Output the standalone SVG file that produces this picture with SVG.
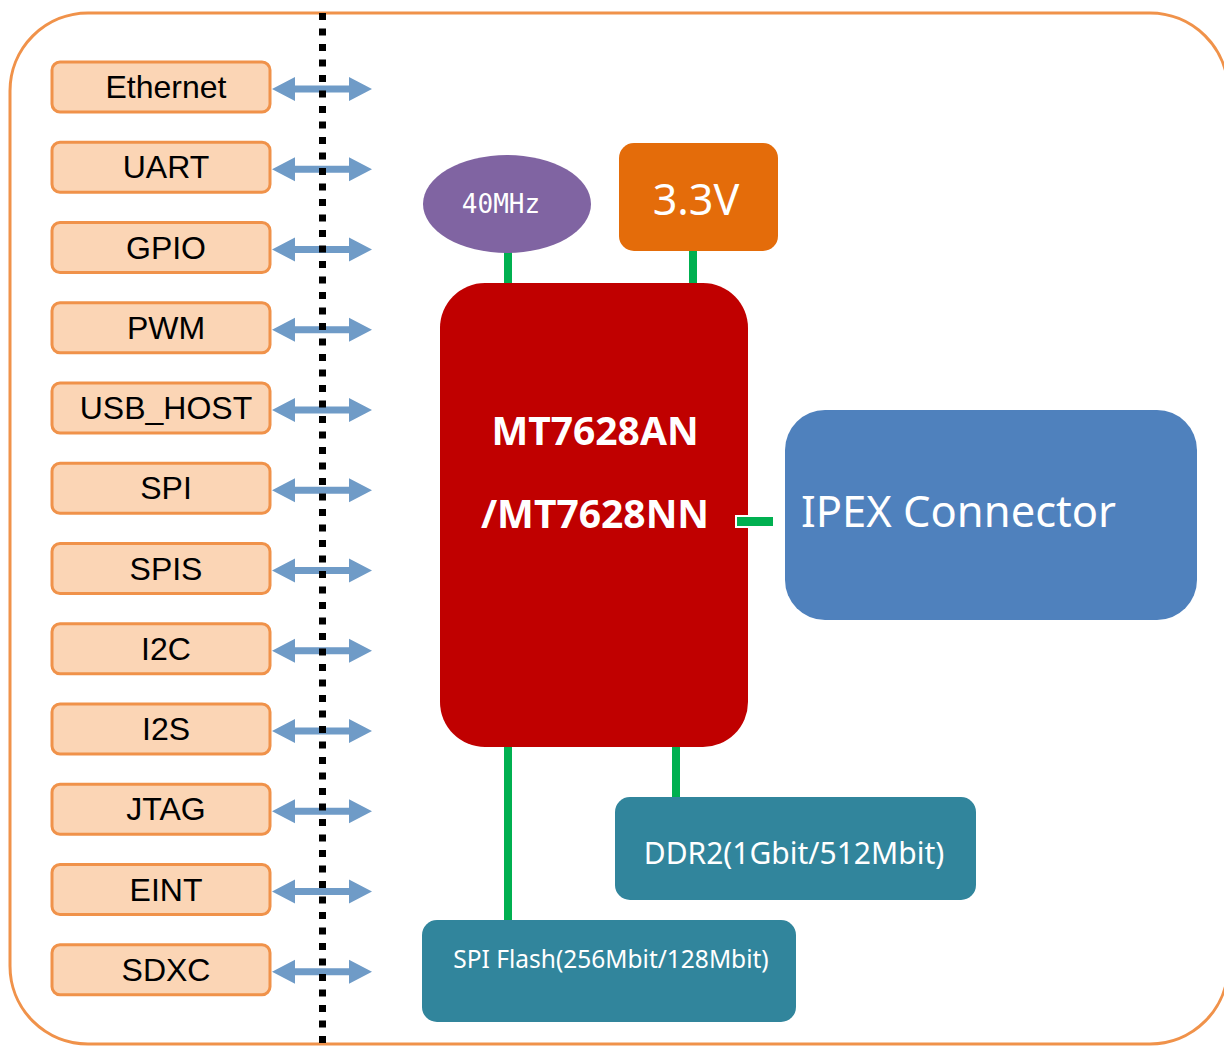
<svg xmlns="http://www.w3.org/2000/svg" width="1224" height="1046" viewBox="0 0 1224 1046">
<style>
.lbox{fill:#FBD5B5;stroke:#F0924A;stroke-width:3}
.ltxt{font-family:"Liberation Sans",Arial,sans-serif;font-size:32px;fill:#000;text-anchor:middle}
.wtxt{font-family:"Noto Sans","Open Sans",sans-serif;fill:#fff}
.grn{stroke:#00B050;stroke-width:8;fill:none}
.arr{fill:#6F9BC7}
.teal{fill:#31859C}
</style>
<defs>
<path id="arr" d="M272,0 L295,-12 L295,-3.5 L349,-3.5 L349,-12 L372,0 L349,12 L349,3.5 L295,3.5 L295,12 Z"/>
</defs>
<rect x="10" y="13" width="1218" height="1031" rx="78" ry="78" fill="#fff" stroke="#F0924A" stroke-width="3"/>

<g id="interfaces">
<g id="n-ethernet"><rect class="lbox" x="52" y="62" width="218" height="50" rx="8"/><text class="ltxt" x="166" y="98">Ethernet</text></g>
<g id="n-uart"><rect class="lbox" x="52" y="142.25" width="218" height="50" rx="8"/><text class="ltxt" x="166" y="178.25">UART</text></g>
<g id="n-gpio"><rect class="lbox" x="52" y="222.5" width="218" height="50" rx="8"/><text class="ltxt" x="166" y="258.5">GPIO</text></g>
<g id="n-pwm"><rect class="lbox" x="52" y="302.75" width="218" height="50" rx="8"/><text class="ltxt" x="166" y="338.75">PWM</text></g>
<g id="n-usbhost"><rect class="lbox" x="52" y="383" width="218" height="50" rx="8"/><text class="ltxt" x="166" y="419">USB_HOST</text></g>
<g id="n-spi"><rect class="lbox" x="52" y="463.25" width="218" height="50" rx="8"/><text class="ltxt" x="166" y="499.25">SPI</text></g>
<g id="n-spis"><rect class="lbox" x="52" y="543.5" width="218" height="50" rx="8"/><text class="ltxt" x="166" y="579.5">SPIS</text></g>
<g id="n-i2c"><rect class="lbox" x="52" y="623.75" width="218" height="50" rx="8"/><text class="ltxt" x="166" y="659.75">I2C</text></g>
<g id="n-i2s"><rect class="lbox" x="52" y="704" width="218" height="50" rx="8"/><text class="ltxt" x="166" y="740">I2S</text></g>
<g id="n-jtag"><rect class="lbox" x="52" y="784.25" width="218" height="50" rx="8"/><text class="ltxt" x="166" y="820.25">JTAG</text></g>
<g id="n-eint"><rect class="lbox" x="52" y="864.5" width="218" height="50" rx="8"/><text class="ltxt" x="166" y="900.5">EINT</text></g>
<g id="n-sdxc"><rect class="lbox" x="52" y="944.75" width="218" height="50" rx="8"/><text class="ltxt" x="166" y="980.75">SDXC</text></g>
</g>

<g id="connectors">
<g class="arr">
<use href="#arr" y="89"/>
<use href="#arr" y="169.25"/>
<use href="#arr" y="249.5"/>
<use href="#arr" y="329.75"/>
<use href="#arr" y="410"/>
<use href="#arr" y="490.25"/>
<use href="#arr" y="570.5"/>
<use href="#arr" y="650.75"/>
<use href="#arr" y="731"/>
<use href="#arr" y="811.25"/>
<use href="#arr" y="891.5"/>
<use href="#arr" y="971.75"/>
</g>
<line class="grn" x1="508" y1="250" x2="508" y2="290"/>
<line class="grn" x1="693" y1="250" x2="693" y2="290"/>
<line class="grn" x1="508" y1="740" x2="508" y2="921"/>
<line class="grn" x1="676" y1="740" x2="676" y2="798"/>
</g>

<line x1="322.5" y1="13" x2="322.5" y2="1046" stroke="#000" stroke-width="7" stroke-dasharray="7 8.5"/>

<g id="n-chip">
<rect x="440" y="283" width="308" height="464" rx="45" ry="45" fill="#C00000"/>
<text class="wtxt" x="595" y="445" font-size="39" font-weight="bold" text-anchor="middle">MT7628AN</text>
<text class="wtxt" x="595" y="528" font-size="39" font-weight="bold" text-anchor="middle">/MT7628NN</text>
</g>

<g id="n-40mhz">
<ellipse cx="507" cy="204" rx="84" ry="49" fill="#8064A2"/>
<text x="501" y="213" font-family="'DejaVu Sans Mono',monospace" font-size="26" fill="#fff" text-anchor="middle">40MHz</text>
</g>

<g id="n-3v3">
<rect x="619" y="143" width="159" height="108" rx="15" fill="#E46C0A"/>
<text class="wtxt" x="696" y="215" font-size="43" text-anchor="middle">3.3V</text>
</g>

<g id="n-ipex">
<rect x="785" y="410" width="412" height="210" rx="40" fill="#4F81BD"/>
<text class="wtxt" x="801" y="527" font-size="43.5">IPEX Connector</text>
</g>
<rect x="736" y="516" width="38" height="11" fill="#00B050" stroke="#fff" stroke-width="2"/>

<g id="n-ddr2">
<rect class="teal" x="615" y="797" width="361" height="103" rx="15"/>
<text class="wtxt" x="794" y="864" font-size="30" text-anchor="middle">DDR2(1Gbit/512Mbit)</text>
</g>

<g id="n-flash">
<rect class="teal" x="422" y="920" width="374" height="102" rx="15"/>
<text class="wtxt" x="611" y="968" font-size="24.5" text-anchor="middle">SPI Flash(256Mbit/128Mbit)</text>
</g>
</svg>
